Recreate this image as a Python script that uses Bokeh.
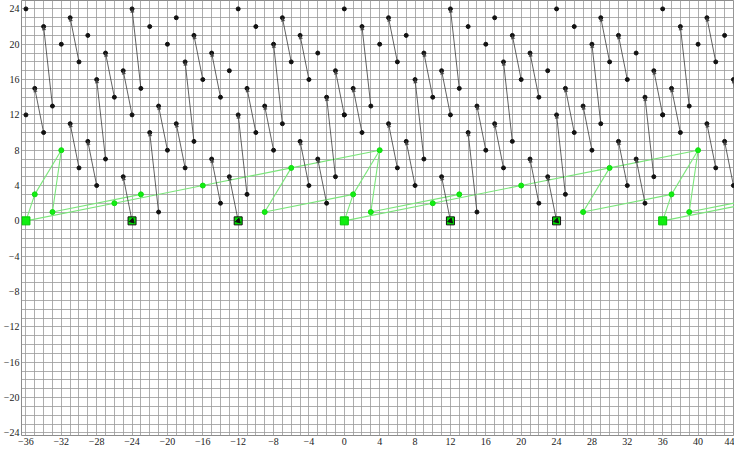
import math
from bokeh.plotting import figure
from bokeh.models import (ColumnDataSource, SingleIntervalTicker, FixedTicker,
                          Range1d, Arrow, NormalHead)
from bokeh.embed import file_html
from bokeh.resources import INLINE

# ---------------- data (one period, x in [-36, 0)) ----
period_shifts = [0, 36, 72]

# black arrows: top point -> bottom point
seg_top_x = [-35, -34, -31, -31, -29, -28, -27, -25, -25, -24, -22, -21, -19, -18,
             -17, -15, -15, -13, -12, -11, -9, -8, -7, -5, -5, -3, -2, -1]
seg_top_y = [15, 22, 23, 11, 9, 16, 19, 17, 5, 24, 10, 13, 11, 18,
             21, 19, 7, 5, 12, 15, 13, 20, 23, 21, 9, 7, 14, 17]
seg_bot_x = [-34, -33, -30, -30, -28, -27, -26, -24, -24, -23, -21, -20, -18, -17,
             -16, -14, -14, -12, -11, -10, -8, -7, -6, -4, -4, -2, -1, 0]
seg_bot_y = [10, 13, 18, 6, 4, 7, 14, 12, 0, 15, 1, 8, 6, 9,
             16, 14, 2, 0, 3, 10, 8, 11, 18, 16, 4, 2, 5, 12]

# isolated black points
iso_x = [-36, -36, -32, -29, -22, -20, -19, -13, -12, -10, -3]
iso_y = [24, 12, 20, 21, 22, 20, 23, 17, 24, 22, 19]

# green graph
green_node_x = [-35, -32, -33, -26, -23, -16, -9, -6]
green_node_y = [3, 8, 1, 2, 3, 4, 1, 6]
green_sq_x = [-36]
green_sq_y = [0]
green_e_x0 = [-36, -35, -32, -33, -36, -26, -16, -6, -9, -9]
green_e_y0 = [0, 3, 8, 1, 0, 2, 4, 6, 1, 1]
green_e_x1 = [-35, -32, -33, -23, -26, -16, -6, 4, -6, 1]
green_e_y1 = [3, 8, 1, 3, 2, 4, 6, 8, 6, 3]

# mixed (black/green) squares
mix_sq_x = [-24, -12]
mix_sq_y = [0, 0]

x_ticks = list(range(-36, 45, 4))
y_ticks = list(range(-24, 25, 4))

X_MIN, X_MAX = -36.5, 44.12
Y_MIN, Y_MAX = -24.3, 24.95


def tile(xs, shifts):
    return [x + s for s in shifts for x in xs]


def rep(ys, shifts):
    return [y for s in shifts for y in ys]


# ---------------- figure ----------------
p = figure(width=734, height=447, output_backend="svg", toolbar_location=None,
           x_range=Range1d(X_MIN, X_MAX), y_range=Range1d(Y_MIN, Y_MAX),
           min_border_left=0, min_border_right=0, min_border_top=0,
           min_border_bottom=0)
p.background_fill_color = "white"
p.border_fill_color = "white"
p.outline_line_color = "#8c8c8c"
p.outline_line_width = 1

for g in (p.xgrid, p.ygrid):
    g.ticker = SingleIntervalTicker(interval=1, num_minor_ticks=0)
    g.grid_line_color = "#999999"
    g.grid_line_width = 0.8

FONT = "Liberation Serif"
p.xaxis.ticker = FixedTicker(ticks=x_ticks)
p.yaxis.ticker = FixedTicker(ticks=y_ticks)
p.xaxis.major_label_overrides = {t: str(t).replace("-", "\u2212") for t in x_ticks}
p.yaxis.major_label_overrides = {t: str(t).replace("-", "\u2212") for t in y_ticks}
for ax in (p.xaxis, p.yaxis):
    ax.axis_line_color = None
    ax.major_tick_line_color = None
    ax.minor_tick_line_color = None
    ax.major_tick_out = 0
    ax.major_tick_in = 0
    ax.major_label_text_font = FONT
    ax.major_label_text_font_size = "10px"
    ax.major_label_text_color = "#222222"
    ax.major_label_standoff = 2

# green edges
ge = ColumnDataSource(dict(x0=tile(green_e_x0, period_shifts), y0=rep(green_e_y0, period_shifts),
                           x1=tile(green_e_x1, period_shifts), y1=rep(green_e_y1, period_shifts)))
p.segment("x0", "y0", "x1", "y1", source=ge, line_color="#7ae57a", line_width=1.1)

# black segments
bs = ColumnDataSource(dict(x0=tile(seg_top_x, period_shifts), y0=rep(seg_top_y, period_shifts),
                           x1=tile(seg_bot_x, period_shifts), y1=rep(seg_bot_y, period_shifts)))
p.segment("x0", "y0", "x1", "y1", source=bs, line_color="#3a3a3a", line_width=0.8)

# small arrow heads at the top ends (only those inside the view)
ax0, ay0, ax1, ay1 = [], [], [], []
for tx, ty, bx, by in zip(bs.data["x0"], bs.data["y0"], bs.data["x1"], bs.data["y1"]):
    if X_MIN <= tx <= X_MAX:
        ax0.append(bx); ay0.append(by); ax1.append(tx); ay1.append(ty)
asrc = ColumnDataSource(dict(x0=ax0, y0=ay0, x1=ax1, y1=ay1))
p.add_layout(Arrow(x_start="x0", y_start="y0", x_end="x1", y_end="y1", source=asrc,
                   line_alpha=0,
                   end=NormalHead(size=3.5, fill_color="#444444", line_color="#444444",
                                  line_width=0.4)))

# black points
all_bx = tile(seg_top_x, period_shifts) + tile(seg_bot_x, period_shifts) + tile(iso_x, period_shifts)
all_by = rep(seg_top_y, period_shifts) + rep(seg_bot_y, period_shifts) + rep(iso_y, period_shifts)
p.scatter(all_bx, all_by, size=4, fill_color="#111111", line_color="#111111")

# mixed squares
mx = tile(mix_sq_x, period_shifts)
my = rep(mix_sq_y, period_shifts)
p.scatter(mx, my, marker="square", size=8, fill_color="#00dd00", line_color="#111111", line_width=1)
p.scatter(mx, my, marker="triangle", size=5, angle=-3 * math.pi / 4,
          fill_color="#111111", line_color="#111111")

# green nodes
p.scatter(tile(green_node_x, period_shifts), rep(green_node_y, period_shifts),
          size=5, fill_color="#11ee11", line_color="#11dd11")
p.scatter(tile(green_sq_x, period_shifts), rep(green_sq_y, period_shifts), marker="square",
          size=8, fill_color="#11ee11", line_color="#00c800", line_width=1)

open("out.html", "w").write(file_html(p, INLINE))
